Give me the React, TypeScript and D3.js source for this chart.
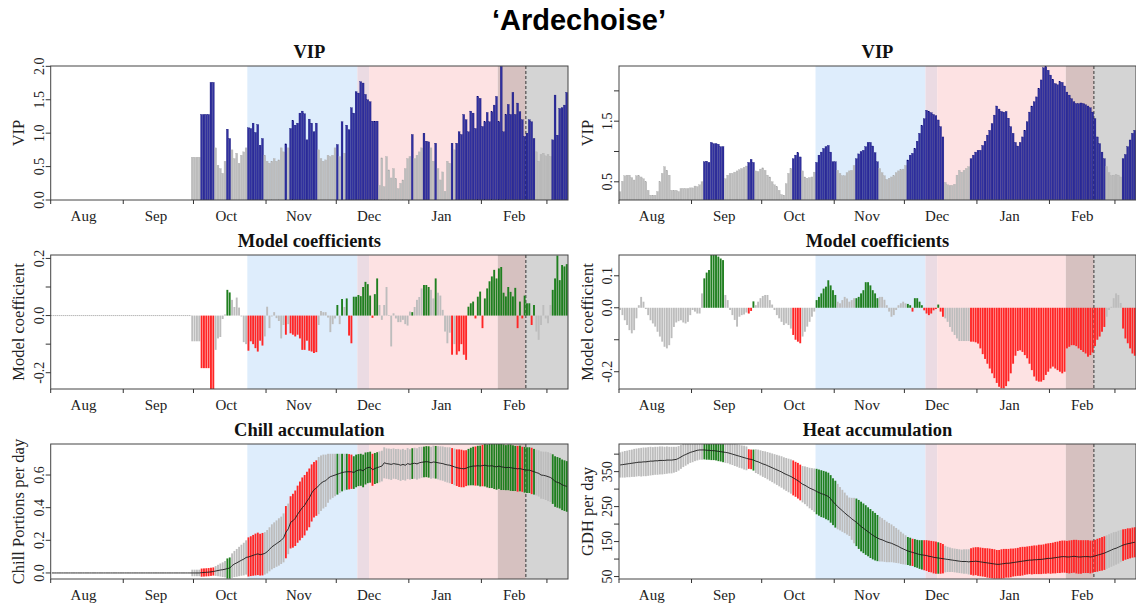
import React from 'react';
import * as d3 from 'd3';

const W = 1136;
const H = 605;

// days are counted from 1 August; the x axis runs to day 221
const nDays = 221;
const monthNames = ['Aug', 'Sep', 'Oct', 'Nov', 'Dec', 'Jan', 'Feb'];
const monthStarts = [0, 31, 61, 92, 122, 153, 184, 212];

// shading: chilling, chilling+forcing, forcing, forcing+late, late
const phaseBreaks = [84, 131, 136, 191, 203, 221];
const bloomDay = 203;
const vipCut = 0.8;

// left column ('Chill Portions'), first day with values = 60
const leftStart = 60;
const leftVip = [
  0.64, 0.64, 0.64, 0.64, 1.28, 1.28, 1.28, 1.28, 1.76, 1.76,
  0.78, 0.52, 0.47, 0.40, 0.58, 1.06, 0.92, 0.75, 0.62, 0.70,
  0.55, 0.67, 0.72, 0.78, 1.08, 1.07, 1.15, 1.01, 1.13, 0.82,
  0.92, 0.67, 0.58, 0.55, 0.58, 0.62, 0.58, 0.60, 0.78, 0.72,
  0.84, 0.78, 1.07, 1.19, 1.12, 1.15, 1.30, 1.33, 1.29, 0.90,
  1.21, 1.15, 1.02, 1.15, 0.75, 0.62, 0.58, 0.60, 0.67, 0.65,
  0.67, 0.78, 0.83, 0.65, 1.17, 0.70, 1.12, 1.05, 1.38, 1.30,
  1.62, 1.60, 1.77, 1.75, 1.58, 1.50, 1.47, 1.18, 1.18, 1.18,
  0.22, 0.63, 0.20, 0.65, 0.45, 0.33, 0.47, 0.32, 0.17, 0.25,
  0.30, 0.47, 0.62, 0.65, 0.98, 0.62, 0.67, 0.72, 0.78, 1.00,
  0.88, 0.87, 0.78, 0.58, 0.85, 0.47, 0.30, 0.42, 0.13, 0.58,
  0.55, 0.85, 0.75, 0.85, 1.02, 0.98, 1.28, 1.20, 1.02, 1.33,
  1.30, 1.07, 1.55, 1.52, 1.10, 1.17, 1.31, 1.17, 1.32, 1.42,
  1.55, 1.17, 2.00, 1.02, 1.28, 1.43, 1.28, 1.61, 1.28, 1.45,
  1.32, 1.20, 0.95, 1.00, 1.20, 1.17, 0.92, 0.72, 0.58, 0.68,
  0.70, 0.66, 0.68, 0.65, 0.90, 1.57, 0.97, 1.37, 1.38, 1.42,
  1.61,
];
const leftCoef = [
  -0.09, -0.09, -0.09, -0.09, -0.184, -0.184, -0.184, -0.184, -0.26, -0.26,
  -0.12, -0.08, -0.075, -0.012, 0.004, 0.09, 0.081, 0.055, 0.03, 0.063,
  0.028, -0.003, -0.093, -0.10, -0.123, -0.09, -0.10, -0.114, -0.126, -0.088,
  -0.105, -0.073, 0.031, -0.044, -0.003, 0.012, -0.009, -0.019, -0.08, -0.033,
  -0.067, -0.03, -0.062, -0.067, -0.073, -0.067, -0.08, -0.12, -0.12, -0.088,
  -0.123, -0.126, -0.131, -0.128, -0.033, 0.016, 0.012, 0.012, -0.007, -0.058,
  -0.03, -0.01, 0.037, -0.03, 0.058, 0.03, 0.06, -0.07, -0.097, 0.066,
  0.066, 0.072, 0.068, 0.10, 0.118, 0.11, 0.07, -0.008, 0.075, 0.13,
  0.037, -0.015, 0.037, 0.10, 0.002, -0.108, 0.008, -0.01, -0.023, -0.023,
  -0.015, -0.03, -0.035, 0.014, 0.012, 0.03, 0.055, 0.065, 0.095, 0.107,
  0.107, 0.10, 0.09, 0.06, 0.13, 0.08, 0.07, 0.02, -0.056, -0.097,
  -0.06, -0.137, -0.10, -0.137, -0.125, -0.10, -0.137, -0.155, 0.031, 0.043,
  0.049, -0.01, 0.066, 0.084, -0.044, 0.06, 0.095, 0.12, 0.137, 0.16,
  0.13, 0.165, 0.17, 0.08, 0.067, 0.10, 0.083, 0.067, 0.097, -0.044,
  0.049, -0.01, 0.07, 0.043, 0.043, -0.033, 0.037, -0.056, -0.085, -0.033,
  0.037, -0.01, -0.027, 0.037, 0.09, 0.13, 0.21, 0.124, 0.177, 0.172,
  0.18,
];
// chill accumulation from day 0
const chillMean = [
  0, 0, 0, 0, 0, 0, 0, 0, 0, 0,
  0, 0, 0, 0, 0, 0, 0, 0, 0, 0,
  0, 0, 0, 0, 0, 0, 0, 0, 0, 0,
  0, 0, 0, 0, 0, 0, 0, 0, 0, 0,
  0, 0, 0, 0, 0, 0, 0, 0, 0, 0,
  0, 0, 0, 0, 0, 0, 0, 0, 0, 0,
  0.0, 0.0, 0.0, 0.0, 0.002, 0.003, 0.004, 0.005, 0.007, 0.009,
  0.012, 0.015, 0.018, 0.02, 0.023, 0.027, 0.03, 0.045, 0.055, 0.062,
  0.07, 0.078, 0.085, 0.095, 0.098, 0.103, 0.108, 0.113, 0.117, 0.112,
  0.115, 0.12, 0.13, 0.145, 0.16, 0.17, 0.18, 0.19, 0.2, 0.215,
  0.25, 0.27, 0.31, 0.32, 0.335, 0.36, 0.38, 0.40, 0.415, 0.44,
  0.46, 0.49, 0.51, 0.52, 0.535, 0.55, 0.56, 0.565, 0.58, 0.59,
  0.595, 0.60, 0.605, 0.61, 0.615, 0.618, 0.62, 0.62, 0.62, 0.615,
  0.625, 0.63, 0.632, 0.625, 0.64, 0.645, 0.648, 0.632, 0.64, 0.645,
  0.65, 0.655, 0.675, 0.67, 0.668, 0.665, 0.67, 0.667, 0.665, 0.66,
  0.665, 0.66, 0.67, 0.665, 0.67, 0.672, 0.668, 0.675, 0.678, 0.68,
  0.682, 0.68, 0.675, 0.68, 0.678, 0.675, 0.672, 0.67, 0.665, 0.662,
  0.66, 0.655, 0.65, 0.645, 0.642, 0.64, 0.638, 0.642, 0.648, 0.652,
  0.655, 0.655, 0.657, 0.655, 0.658, 0.66, 0.656, 0.655, 0.657, 0.652,
  0.65, 0.655, 0.65, 0.648, 0.645, 0.647, 0.645, 0.642, 0.64, 0.638,
  0.64, 0.635, 0.632, 0.63, 0.63, 0.625, 0.62, 0.615, 0.61, 0.60,
  0.598, 0.595, 0.59, 0.585, 0.575, 0.56, 0.555, 0.55, 0.54, 0.535,
  0.53,
];
const chillSd = [
  0, 0, 0, 0, 0, 0, 0, 0, 0, 0,
  0, 0, 0, 0, 0, 0, 0, 0, 0, 0,
  0, 0, 0, 0, 0, 0, 0, 0, 0, 0,
  0, 0, 0, 0, 0, 0, 0, 0, 0, 0,
  0, 0, 0, 0, 0, 0, 0, 0, 0, 0,
  0, 0, 0, 0, 0, 0, 0, 0, 0, 0,
  0.02, 0.02, 0.02, 0.02, 0.025, 0.025, 0.025, 0.025, 0.025, 0.025,
  0.03, 0.035, 0.04, 0.045, 0.05, 0.062, 0.065, 0.075, 0.08, 0.085,
  0.09, 0.095, 0.10, 0.105, 0.12, 0.122, 0.125, 0.128, 0.13, 0.128,
  0.13, 0.13, 0.133, 0.135, 0.138, 0.14, 0.142, 0.145, 0.145, 0.15,
  0.16, 0.155, 0.16, 0.165, 0.17, 0.175, 0.18, 0.185, 0.185, 0.18,
  0.18, 0.175, 0.17, 0.17, 0.175, 0.17, 0.165, 0.16, 0.15, 0.14,
  0.135, 0.13, 0.125, 0.12, 0.115, 0.112, 0.11, 0.108, 0.105, 0.10,
  0.10, 0.098, 0.098, 0.10, 0.098, 0.095, 0.095, 0.098, 0.095, 0.095,
  0.095, 0.094, 0.095, 0.093, 0.094, 0.095, 0.093, 0.092, 0.095, 0.096,
  0.095, 0.094, 0.095, 0.093, 0.094, 0.095, 0.096, 0.097, 0.095, 0.094,
  0.095, 0.096, 0.098, 0.10, 0.10, 0.102, 0.104, 0.105, 0.106, 0.108,
  0.11, 0.11, 0.112, 0.112, 0.115, 0.115, 0.113, 0.11, 0.112, 0.115,
  0.118, 0.12, 0.122, 0.125, 0.127, 0.13, 0.132, 0.135, 0.137, 0.138,
  0.14, 0.14, 0.142, 0.14, 0.138, 0.14, 0.142, 0.14, 0.138, 0.14,
  0.14, 0.138, 0.14, 0.14, 0.14, 0.142, 0.14, 0.14, 0.142, 0.145,
  0.145, 0.148, 0.15, 0.15, 0.152, 0.155, 0.155, 0.155, 0.155, 0.155,
  0.155,
];

// right column ('GDH'), values from day 0
const rightVip = [
  0.335, 0.51, 0.60, 0.61, 0.61, 0.57, 0.53, 0.60, 0.60, 0.58,
  0.55, 0.50, 0.36, 0.28, 0.28, 0.28, 0.34, 0.50, 0.64, 0.75,
  0.69, 0.61, 0.36, 0.36, 0.36, 0.34, 0.39, 0.39, 0.39, 0.39,
  0.40, 0.40, 0.43, 0.42, 0.45, 0.50, 0.83, 0.84, 0.82, 1.15,
  1.13, 1.13, 1.12, 1.08, 1.08, 0.55, 0.61, 0.64, 0.64, 0.66,
  0.68, 0.70, 0.72, 0.74, 0.76, 0.82, 0.87, 0.82, 0.68, 0.67,
  0.71, 0.73, 0.69, 0.61, 0.58, 0.50, 0.45, 0.42, 0.36, 0.29,
  0.28, 0.47, 0.64, 0.72, 0.88, 0.94, 0.98, 0.91, 0.68, 0.58,
  0.56, 0.57, 0.58, 0.66, 0.82, 0.94, 0.99, 1.05, 1.08, 1.10,
  0.99, 0.83, 0.83, 0.69, 0.64, 0.60, 0.60, 0.65, 0.68, 0.69,
  0.77, 0.88, 0.96, 1.00, 1.02, 1.08, 1.15, 1.15, 1.09, 0.98,
  0.83, 0.72, 0.65, 0.60, 0.54, 0.56, 0.58, 0.60, 0.65, 0.68,
  0.70, 0.71, 0.77, 0.86, 0.94, 0.97, 1.05, 1.17, 1.30, 1.43,
  1.54, 1.68, 1.66, 1.64, 1.61, 1.59, 1.52, 1.41, 1.24, 0.49,
  0.45, 0.44, 0.44, 0.46, 0.61, 0.69, 0.66, 0.69, 0.72, 0.75,
  0.88, 0.94, 0.99, 1.02, 1.02, 1.10, 1.17, 1.27, 1.35, 1.46,
  1.60, 1.75, 1.70, 1.66, 1.65, 1.66, 1.55, 1.41, 1.30, 1.15,
  1.09, 1.15, 1.24, 1.35, 1.49, 1.65, 1.75, 1.82, 1.90, 2.04,
  2.18, 2.38, 2.40, 2.34, 2.26, 2.19, 2.12, 2.10, 2.15, 2.14,
  2.08, 1.98, 1.93, 1.87, 1.82, 1.79, 1.79, 1.80, 1.79, 1.77,
  1.75, 1.72, 1.65, 1.54, 1.24, 1.13, 0.99, 0.88, 0.75, 0.65,
  0.60, 0.61, 0.62, 0.61, 0.58, 0.88, 0.95, 1.08, 1.19, 1.30,
  1.35,
];
const rightCoef = [
  -0.007, -0.023, -0.039, -0.054, -0.07, -0.08, -0.07, -0.033, 0.008, 0.034,
  0.019, -0.004, -0.023, -0.039, -0.049, -0.059, -0.075, -0.09, -0.106, -0.122,
  -0.127, -0.117, -0.095, -0.06, -0.046, -0.042, -0.039, -0.046, -0.049, -0.044,
  -0.023, -0.007, -0.012, -0.018, -0.018, 0.045, 0.092, 0.11, 0.118, 0.165,
  0.165, 0.165, 0.16, 0.154, 0.149, 0.04, 0.024, -0.007, -0.023, -0.038,
  -0.059, -0.028, -0.023, -0.021, -0.015, -0.018, -0.01, 0.02, 0.008, 0.019,
  0.03, 0.037, 0.04, 0.04, 0.024, 0.01, -0.007, -0.023, -0.033, -0.044,
  -0.054, -0.049, -0.054, -0.065, -0.085, -0.10, -0.106, -0.111, -0.09, -0.075,
  -0.059, -0.044, -0.028, -0.012, 0.024, 0.034, 0.045, 0.06, 0.066, 0.086,
  0.07, 0.055, 0.04, 0.019, 0.014, 0.024, 0.034, 0.029, 0.019, 0.024,
  0.03, 0.03, 0.034, 0.045, 0.055, 0.08, 0.08, 0.07, 0.055, 0.045,
  0.03, 0.034, 0.034, 0.025, 0.008, -0.012, -0.028, -0.023, -0.007, 0.008,
  0.014, 0.019, 0.014, 0.012, 0.008, -0.012, 0.03, 0.03, 0.019, 0.008,
  -0.008, -0.018, -0.023, -0.018, -0.008, -0.004, 0.01, -0.012, -0.028, -0.033,
  -0.044, -0.06, -0.075, -0.085, -0.096, -0.104, -0.104, -0.104, -0.104, -0.104,
  -0.106, -0.106, -0.108, -0.112, -0.127, -0.145, -0.16, -0.175, -0.19, -0.205,
  -0.22, -0.235, -0.247, -0.252, -0.252, -0.245, -0.23, -0.205, -0.175, -0.15,
  -0.135, -0.133, -0.138, -0.148, -0.158, -0.175, -0.195, -0.215, -0.228, -0.231,
  -0.231, -0.226, -0.21, -0.2, -0.19, -0.184, -0.19, -0.195, -0.2, -0.205,
  -0.2, -0.127, -0.122, -0.117, -0.117, -0.12, -0.127, -0.132, -0.138, -0.143,
  -0.153, -0.148, -0.14, -0.12, -0.1, -0.09, -0.075, -0.06, -0.028, -0.007,
  0.003, 0.03, 0.045, 0.04, 0.015, -0.065, -0.096, -0.111, -0.127, -0.143,
  -0.15,
];
const heatMean = [
  369, 370, 371, 372, 373, 374, 375, 376, 377, 377,
  378, 378, 379, 380, 380, 381, 381, 382, 382, 382,
  383, 383, 383, 384, 385, 388, 392, 396, 399, 402,
  405, 407, 409, 411, 412, 412, 412, 411, 411, 410,
  410, 409, 408, 407, 406, 405, 404, 402, 400, 398,
  396, 394, 392, 390, 388, 386, 385, 383, 380, 378,
  375, 372, 370, 367, 364, 361, 358, 355, 352, 349,
  345, 342, 339, 336, 332, 328, 324, 319, 314, 311,
  307, 303, 300, 297, 293, 290, 287, 285, 282, 279,
  272, 264, 257, 250, 244, 238, 232, 226, 221, 215,
  210, 205, 199, 193, 188, 183, 178, 173, 168, 164,
  160, 157, 155, 152, 149, 147, 145, 142, 139, 136,
  132, 129, 126, 123, 121, 119, 117, 115, 113, 112,
  111, 110, 108, 107, 105, 104, 103, 102, 101, 100,
  99, 98, 97, 96, 95, 94, 93, 93, 93, 92,
  93, 93, 94, 93, 92, 91, 90, 89, 88, 87,
  86, 85, 85, 86, 87, 88, 88, 89, 90, 91,
  92, 93, 94, 95, 96, 97, 97, 98, 98, 99,
  99, 100, 101, 102, 102, 103, 104, 105, 106, 107,
  107, 106, 106, 107, 108, 107, 106, 106, 107, 107,
  107, 106, 107, 109, 111, 113, 115, 117, 120, 123,
  126, 129, 131, 134, 137, 140, 142, 144, 145, 147,
  148,
];
const heatSd = [
  36, 37, 38, 38, 39, 39, 40, 40, 40, 41,
  41, 41, 41, 41, 40, 40, 40, 40, 40, 39,
  39, 38, 38, 37, 36, 35, 34, 33, 32, 31,
  30, 30, 29, 29, 28, 28, 27, 27, 27, 27,
  27, 27, 28, 28, 29, 30, 30, 31, 31, 32,
  32, 33, 33, 34, 34, 28, 28, 30, 34, 35,
  36, 37, 38, 39, 40, 41, 42, 43, 44, 45,
  46, 47, 48, 49, 50, 50, 51, 51, 52, 54,
  56, 58, 60, 62, 65, 66, 67, 67, 68, 68,
  68, 67, 67, 65, 62, 60, 58, 56, 55, 60,
  65, 68, 70, 71, 71, 71, 70, 70, 69, 68,
  66, 64, 62, 60, 58, 56, 54, 52, 50, 48,
  46, 44, 42, 40, 40, 39, 40, 40, 41, 42,
  43, 44, 45, 45, 46, 46, 45, 44, 42, 38,
  36, 35, 34, 34, 34, 34, 34, 35, 35, 36,
  38, 40, 40, 41, 41, 41, 41, 42, 42, 42,
  42, 41, 41, 42, 42, 41, 41, 41, 40, 40,
  40, 41, 41, 40, 40, 40, 41, 41, 41, 42,
  42, 42, 43, 43, 44, 44, 45, 45, 46, 46,
  46, 46, 47, 47, 47, 48, 48, 48, 47, 47,
  47, 47, 46, 46, 47, 47, 48, 48, 48, 48,
  48, 48, 47, 47, 46, 45, 44, 44, 43, 43,
  43,
];

// ---- styling ----
const phaseColors = ['#deedfc', '#ebdbe3', '#fde2e3', '#d6c1c0', '#d4d4d4'];
const BLUE = '#30309f';
const GREY = '#bdbdbd';
const RED = '#ff2626';
const GREEN = '#1f7f1f';
const SERIF = '"Liberation Serif", "Times New Roman", serif';

const cols = [{ x0: 50.7, x1: 568 }, { x0: 619, x1: 1136 }];
const rows = [{ top: 66, bottom: 200 }, { top: 255, bottom: 389 }, { top: 444, bottom: 579 }];

const importance = (vip, coef) => (vip > vipCut ? (coef > 0 ? GREEN : RED) : GREY);

function Panel({ id, col, row, domain, ticks, labels, title, yTitle, draw }) {
  const { x0, x1 } = cols[col];
  const { top, bottom } = rows[row];
  const x = d3.scaleLinear().domain([0, nDays]).range([x0, x1]);
  const y = d3.scaleLinear().domain(domain).range([bottom, top]);
  const titleX = col === 0 ? 18 : 587;
  return (
    <g>
      <defs>
        <clipPath id={id}>
          <rect x={x0} y={top} width={x1 - x0} height={bottom - top} />
        </clipPath>
      </defs>
      <g clipPath={`url(#${id})`}>
        {phaseColors.map((c, i) => (
          <rect key={i} x={x(phaseBreaks[i])} y={top}
            width={x(phaseBreaks[i + 1]) - x(phaseBreaks[i])} height={bottom - top} fill={c} />
        ))}
        <line x1={x(bloomDay)} x2={x(bloomDay)} y1={top} y2={bottom}
          stroke="#333" strokeWidth={1} strokeDasharray="3,2" />
        {draw(x, y)}
      </g>
      <rect x={x0} y={top} width={x1 - x0} height={bottom - top} fill="none" stroke="#444" strokeWidth={1} />
      {ticks.map((t, i) => (
        <g key={t}>
          <line x1={x0 - 5} x2={x0} y1={y(t)} y2={y(t)} stroke="#333" />
          {labels[i] && (
            <text transform={`translate(${x0 - 7},${y(t)}) rotate(-90)`} textAnchor="middle"
              fontFamily={SERIF} fontSize={14} fill="#222">{labels[i]}</text>
          )}
        </g>
      ))}
      {monthStarts.map((m) => (
        <line key={m} x1={x(m)} x2={x(m)} y1={bottom} y2={bottom + 4} stroke="#333" />
      ))}
      {monthNames.map((n, i) => (
        <text key={n} x={x(monthStarts[i] + 14)} y={bottom + 21}
          textAnchor="middle" fontFamily={SERIF} fontSize={15} fill="#222">{n}</text>
      ))}
      <text x={(x0 + x1) / 2} y={top - 8} textAnchor="middle" fontFamily={SERIF}
        fontWeight="bold" fontSize={18.5} fill="#111">{title}</text>
      <text transform={`translate(${titleX},${(top + bottom) / 2}) rotate(-90)`} textAnchor="middle"
        dominantBaseline="central" fontFamily={SERIF} fontSize={16.5} fill="#222">{yTitle}</text>
    </g>
  );
}

function vipBars(start, vip) {
  return (x, y) => {
    const w = x(1) - x(0);
    return vip.map((v, i) => {
      const imp = v > vipCut;
      return (
        <rect key={i} x={x(start + i) + 0.15} width={w - 0.45} y={y(v)} height={y(0) - y(v)}
          fill={imp ? BLUE : GREY} stroke={imp ? '#00006e' : '#a9a9a9'} strokeWidth={0.3} />
      );
    });
  };
}

function coefBars(start, coef, vip, dotted) {
  return (x, y) => {
    const w = x(1) - x(0);
    return (
      <g>
        {dotted && (
          <line x1={x(0)} x2={x(start)} y1={y(0)} y2={y(0)} stroke="#999" strokeDasharray="1,1" />
        )}
        {coef.map((c, i) => (
          <rect key={i} x={x(start + i) + 0.15} width={w - 0.45}
            y={Math.min(y(0), y(c))} height={Math.abs(y(c) - y(0))}
            fill={importance(vip[i], c)} />
        ))}
      </g>
    );
  };
}

function accumulation(mean, sd, colorOf) {
  return (x, y) => {
    const w = x(1) - x(0);
    const line = d3.line().x((_, i) => x(i + 0.5)).y((v) => y(v));
    return (
      <g>
        {mean.map((m, i) =>
          sd[i] > 0 ? (
            <rect key={i} x={x(i) + 0.2} width={w - 0.5} y={y(m + sd[i])}
              height={y(m - sd[i]) - y(m + sd[i])} fill={colorOf(i)} />
          ) : null
        )}
        <path d={line(mean)} fill="none" stroke="#1a1a1a" strokeWidth={0.9} />
      </g>
    );
  };
}

const chillColor = (d) => (d < leftStart ? GREY : importance(leftVip[d - leftStart], leftCoef[d - leftStart]));
const heatColor = (d) => importance(rightVip[d], rightCoef[d]);

export default function App() {
  return (
    <div style={{ position: 'absolute', left: 0, top: 0 }}>
      <svg width={W} height={H} style={{ display: 'block', background: '#fff' }}>
        <text x={579} y={30} textAnchor="middle" fontFamily='"Liberation Sans", Arial, sans-serif'
          fontWeight="bold" fontSize={29} fill="#000">{'\u2018Ardechoise\u2019'}</text>

        <Panel id="c1" col={0} row={0} domain={[0, 2.005]} ticks={[0, 0.5, 1, 1.5, 2]}
          labels={['0.0', '0.5', '1.0', '1.5', '2.0']} title="VIP" yTitle="VIP"
          draw={vipBars(leftStart, leftVip)} />
        <Panel id="c2" col={1} row={0} domain={[0.2, 2.41]} ticks={[0.5, 1, 1.5, 2]}
          labels={['0.5', '', '1.5', '']} title="VIP" yTitle="VIP"
          draw={vipBars(0, rightVip)} />

        <Panel id="c3" col={0} row={1} domain={[-0.257, 0.212]} ticks={[-0.2, -0.1, 0, 0.1, 0.2]}
          labels={['-0.2', '', '0.0', '', '0.2']} title="Model coefficients" yTitle="Model coefficient"
          draw={coefBars(leftStart, leftCoef, leftVip, true)} />
        <Panel id="c4" col={1} row={1} domain={[-0.254, 0.165]} ticks={[-0.2, -0.1, 0, 0.1]}
          labels={['-0.2', '', '0.0', '0.1']} title="Model coefficients" yTitle="Model coefficient"
          draw={coefBars(0, rightCoef, rightVip, false)} />

        <Panel id="c5" col={0} row={2} domain={[-0.037, 0.79]} ticks={[0, 0.2, 0.4, 0.6]}
          labels={['0.0', '0.2', '0.4', '0.6']} title="Chill accumulation" yTitle="Chill Portions per day"
          draw={accumulation(chillMean, chillSd, chillColor)} />
        <Panel id="c6" col={1} row={2} domain={[43, 429]} ticks={[50, 100, 150, 200, 250, 300, 350, 400]}
          labels={['50', '', '150', '', '250', '', '350', '']} title="Heat accumulation" yTitle="GDH per day"
          draw={accumulation(heatMean, heatSd, heatColor)} />
      </svg>
    </div>
  );
}
